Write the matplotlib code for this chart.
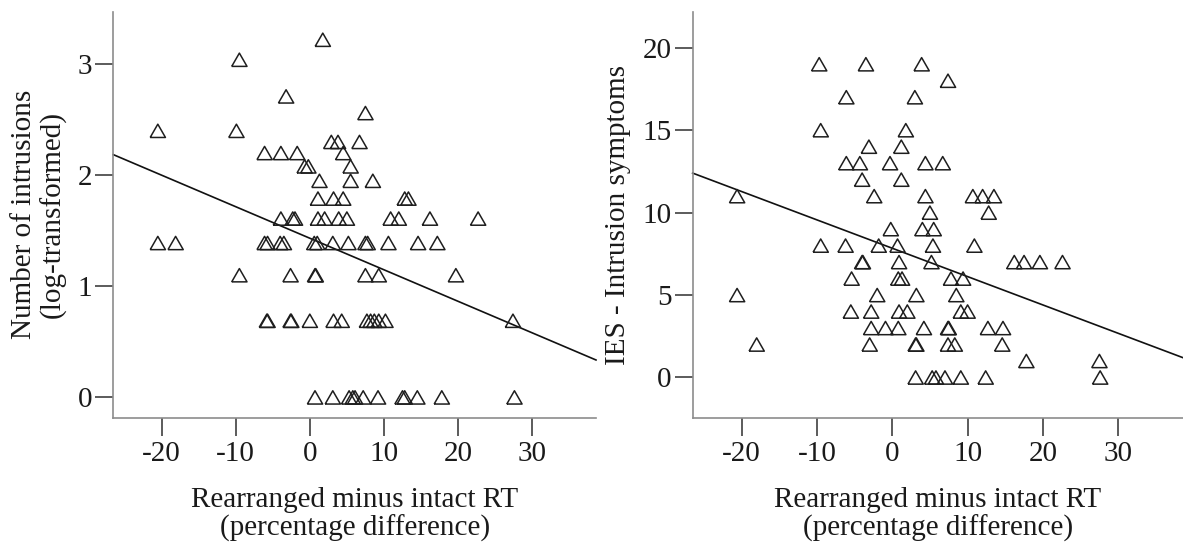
import numpy as np
import matplotlib
matplotlib.use("Agg")
import matplotlib.pyplot as plt

plt.rcParams['font.family'] = ['Liberation Serif', 'DejaVu Serif']

# left panel: number of intrusions (log-transformed)
left_x = [1.75, -9.5, -3.2, 7.5, -20.5, -9.9, 2.9, 3.8, 6.7,
          -6.1, -3.9, -1.7, 4.5, -0.7, -0.2, 5.5, 1.3, 5.5, 8.5,
          1.1, 3.2, 4.5, 12.8, 13.3,
          -3.9, -2.3, -2.0, 1.1, 2.0, 3.9, 5.0, 10.9, 12.0, 16.2, 22.7,
          -20.5, -18.1, -6.1, -5.7, -4.0, -3.5, 0.6, 1.0, 3.1, 5.2, 7.5, 7.8, 10.6, 14.6, 17.2,
          -9.5, -2.6, 0.7, 0.8, 7.5, 9.3, 19.7,
          -5.8, -5.7, -2.6, -2.5, 0.0, 3.2, 4.3, 7.7, 8.2, 8.7, 9.3, 10.2, 27.4,
          0.7, 3.1, 5.3, 5.8, 6.1, 7.2, 9.2, 12.5, 12.8, 14.5, 17.8, 27.6]
left_y = [3.22, 3.04, 2.71, 2.56, 2.40, 2.40, 2.30, 2.30, 2.30,
          2.20, 2.20, 2.20, 2.20, 2.08, 2.08, 2.08, 1.95, 1.95, 1.95,
          1.79, 1.79, 1.79, 1.79, 1.79,
          1.61, 1.61, 1.61, 1.61, 1.61, 1.61, 1.61, 1.61, 1.61, 1.61, 1.61,
          1.39, 1.39, 1.39, 1.39, 1.39, 1.39, 1.39, 1.39, 1.39, 1.39, 1.39, 1.39, 1.39, 1.39, 1.39,
          1.10, 1.10, 1.10, 1.10, 1.10, 1.10, 1.10,
          0.69, 0.69, 0.69, 0.69, 0.69, 0.69, 0.69, 0.69, 0.69, 0.69, 0.69, 0.69, 0.69,
          0, 0, 0, 0, 0, 0, 0, 0, 0, 0, 0, 0]
left_fit = (1.433, -0.0284)  # intercept, slope

# right panel: IES intrusion symptoms
right_x = [-9.7, -3.5, 3.9, 7.4, -6.1, 3.0, -9.5, 1.8, -3.1, 1.2,
           -6.1, -4.3, -0.3, 4.4, 6.7, -4.0, 1.2,
           -20.6, -2.4, 4.4, 10.7, 12.0, 13.5, 5.0, 12.8,
           -0.2, 4.0, 5.5,
           -9.5, -6.2, -1.8, 0.7, 5.4, 10.9,
           -4.0, -3.9, 0.9, 5.2, 16.2, 17.5, 19.6, 22.6,
           -5.4, 0.8, 1.3, 7.8, 9.4,
           -20.6, -2.0, 3.2, 8.5,
           -5.5, -2.8, 0.9, 2.0, 9.1, 10.0,
           -2.8, -0.9, 0.8, 4.2, 7.4, 7.5, 12.7, 14.7,
           -18.0, -3.0, 3.1, 3.2, 7.4, 8.3, 14.6,
           17.8, 27.5,
           3.1, 5.3, 5.8, 7.0, 9.1, 12.4, 27.6]
right_y = [19, 19, 19, 18, 17, 17, 15, 15, 14, 14,
           13, 13, 13, 13, 13, 12, 12,
           11, 11, 11, 11, 11, 11, 10, 10,
           9, 9, 9,
           8, 8, 8, 8, 8, 8,
           7, 7, 7, 7, 7, 7, 7, 7,
           6, 6, 6, 6, 6,
           5, 5, 5, 5,
           4, 4, 4, 4, 4, 4,
           3, 3, 3, 3, 3, 3, 3, 3,
           2, 2, 2, 2, 2, 2, 2,
           1, 1,
           0, 0, 0, 0, 0, 0, 0]
right_fit = (7.84, -0.172)

x_ticks = [-20, -10, 0, 10, 20, 30]
x_label = "Rearranged minus intact RT\n(percentage difference)"

tri = [(-1, -0.87), (1, -0.87), (0, 0.87), (-1, -0.87)]
txt = '#1a1a1a'


def style(ax):
    for s in ['top', 'right']:
        ax.spines[s].set_visible(False)
    for s in ['left', 'bottom']:
        ax.spines[s].set_color('#8c8c8c')
        ax.spines[s].set_linewidth(1.2)
    ax.tick_params(direction='out', length=13, width=1.2, color='#404040',
                   labelsize=21, labelcolor=txt)
    ax.tick_params(axis='y', pad=2)
    ax.tick_params(axis='x', pad=4)


def panel(ax, xs, ys, fit, ylim, yticks, ylabel):
    ax.scatter(xs, ys, marker=tri, s=11 ** 2, facecolors='none',
               edgecolors='#1e1e1e', linewidths=1.1, zorder=3)
    xlim = (-26.5, 38.6)
    ax.plot(xlim, [fit[0] + fit[1] * v for v in xlim], color='#111111',
            lw=1.2, zorder=2, clip_on=False)
    ax.set_xlim(xlim)
    ax.set_ylim(ylim)
    ax.set_xticks(x_ticks)
    ax.set_xticklabels([str(t) for t in x_ticks])
    ax.set_yticks(yticks)
    ax.set_xlabel(x_label, fontsize=21, color=txt, linespacing=1.1, labelpad=14)
    ax.set_ylabel(ylabel, fontsize=21, color=txt, linespacing=1.1, labelpad=8)
    style(ax)


fig = plt.figure(figsize=(11.83, 5.42), dpi=100)
ax1 = fig.add_axes([0.0958, 0.2293, 0.408, 0.7486])
ax2 = fig.add_axes([0.5855, 0.2293, 0.4145, 0.7486])

panel(ax1, left_x, left_y, left_fit, (-0.183, 3.47), [0, 1, 2, 3],
      "Number of intrusions\n(log-transformed)")
panel(ax2, right_x, right_y, right_fit, (-2.44, 22.17), [0, 5, 10, 15, 20],
      "IES - Intrusion symptoms")

fig.savefig("out.png", dpi=100)
